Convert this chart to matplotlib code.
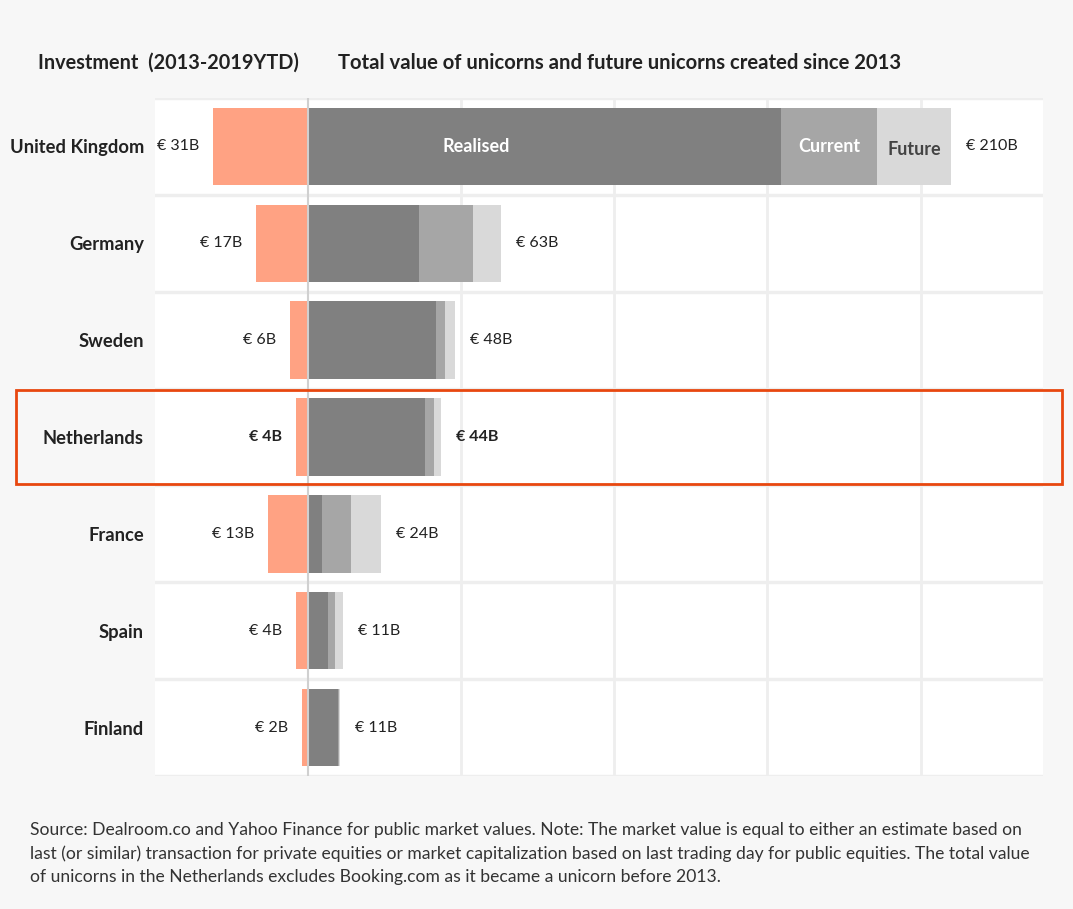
"""Unicorns: investment vs. total value per country"""

from matplotlib import pyplot as plt
from matplotlib.patches import Rectangle

# dane (mld EUR)
kraje = ["United Kingdom", "Germany", "Sweden", "Netherlands", "France", "Spain", "Finland"]
inwestycje = [31, 17, 6, 4, 13, 4, 2]
zrealizowane = [154.5, 36.2, 41.7, 38.1, 4.6, 6.5, 9.8]
obecne = [31.3, 17.6, 3.0, 3.0, 9.4, 2.3, 0.3]
przyszle = [24.2, 9.2, 3.3, 2.3, 9.8, 2.6, 0.3]
etykiety_inw = ["€ 31B", "€ 17B", "€ 6B", "€ 4B", "€ 13B", "€ 4B", "€ 2B"]
etykiety_suma = ["€ 210B", "€ 63B", "€ 48B", "€ 44B", "€ 24B", "€ 11B", "€ 11B"]
wyrozniony = "Netherlands"

plt.rcParams["font.family"] = ["Lato", "DejaVu Sans"]
tlo = "#f7f7f7"
kolor_inw = "#ffa283"
kolory = ["#808080", "#a6a6a6", "#d9d9d9"]

fig = plt.figure(figsize=(10.73, 9.09), dpi=100, facecolor=tlo)
ax = fig.add_axes([0.1445, 0.1463, 0.8276, 0.7459])
ax.set_facecolor("white")

y = list(range(len(kraje)))
h = 0.8
ax.barh(y, [-v for v in inwestycje], height=h, color=kolor_inw, zorder=3)
lewo = [0] * len(kraje)
for seria, kol in zip([zrealizowane, obecne, przyszle], kolory):
    ax.barh(y, seria, left=lewo, height=h, color=kol, zorder=3)
    lewo = [a + b for a, b in zip(lewo, seria)]

# etykiety wartosci
for i, kraj in enumerate(kraje):
    waga = "bold" if kraj == wyrozniony else "normal"
    ax.annotate(etykiety_inw[i], (-inwestycje[i], i), xytext=(-10, 0),
                textcoords="offset points", ha="right", va="center",
                fontsize=11.5, color="#222222", fontweight=waga)
    ax.annotate(etykiety_suma[i], (lewo[i], i), xytext=(11, 0),
                textcoords="offset points", ha="left", va="center",
                fontsize=11.5, color="#222222", fontweight=waga)

# opisy segmentow w pierwszym wierszu
ax.text(55, 0, "Realised", ha="center", va="center", color="white",
        fontsize=13, fontweight="bold", zorder=4)
ax.text(zrealizowane[0] + obecne[0] / 2, 0, "Current", ha="center", va="center",
        color="white", fontsize=13, fontweight="bold", zorder=4)
ax.text(zrealizowane[0] + obecne[0] + przyszle[0] / 2, 0.03, "Future", ha="center",
        va="center", color="#444444", fontsize=13, fontweight="bold", zorder=4)

ax.set_xlim(-50, 240)
ax.set_ylim(len(kraje) - 0.5, -0.5)
ax.set_yticks(y)
ax.set_yticklabels(kraje, fontsize=13.2, fontweight="bold", color="#222222")
ax.tick_params(axis="y", length=0, pad=8)
ax.set_xticks([50, 100, 150, 200])
ax.tick_params(axis="x", length=0, labelbottom=False)
ax.grid(axis="x", color="#eeeeee", linewidth=2, zorder=0)
for s in range(len(kraje) + 1):
    ax.axhline(s - 0.5, color="#eeeeee", linewidth=2.5, zorder=1)
ax.axvline(0, color="#d0d0d0", linewidth=1.5, zorder=4)
for sp in ax.spines.values():
    sp.set_visible(False)

# naglowki
fig.text(38 / 1073, 1 - 63 / 909, "Investment  (2013-2019YTD)", fontsize=14.3,
         fontweight="bold", color="#222222", va="center")
fig.text(338 / 1073, 1 - 63 / 909,
         "Total value of unicorns and future unicorns created since 2013",
         fontsize=14.6, fontweight="bold", color="#222222", va="center")

# ramka wyroznienia
fig.patches.append(Rectangle((16 / 1073, 1 - 484 / 909), 1046 / 1073, 94 / 909,
                             transform=fig.transFigure, fill=False,
                             edgecolor="#e8470f", linewidth=2, zorder=10))

# przypis
przypis = ("Source: Dealroom.co and Yahoo Finance for public market values. Note: The market value is equal to either an estimate based on\n"
           "last (or similar) transaction for private equities or market capitalization based on last trading day for public equities. The total value\n"
           "of unicorns in the Netherlands excludes Booking.com as it became a unicorn before 2013.")
fig.text(30 / 1073, 1 - 822 / 909, przypis, fontsize=12.6, color="#333333",
         va="top", linespacing=1.55)

plt.savefig("out.png", dpi=100, facecolor=tlo)
